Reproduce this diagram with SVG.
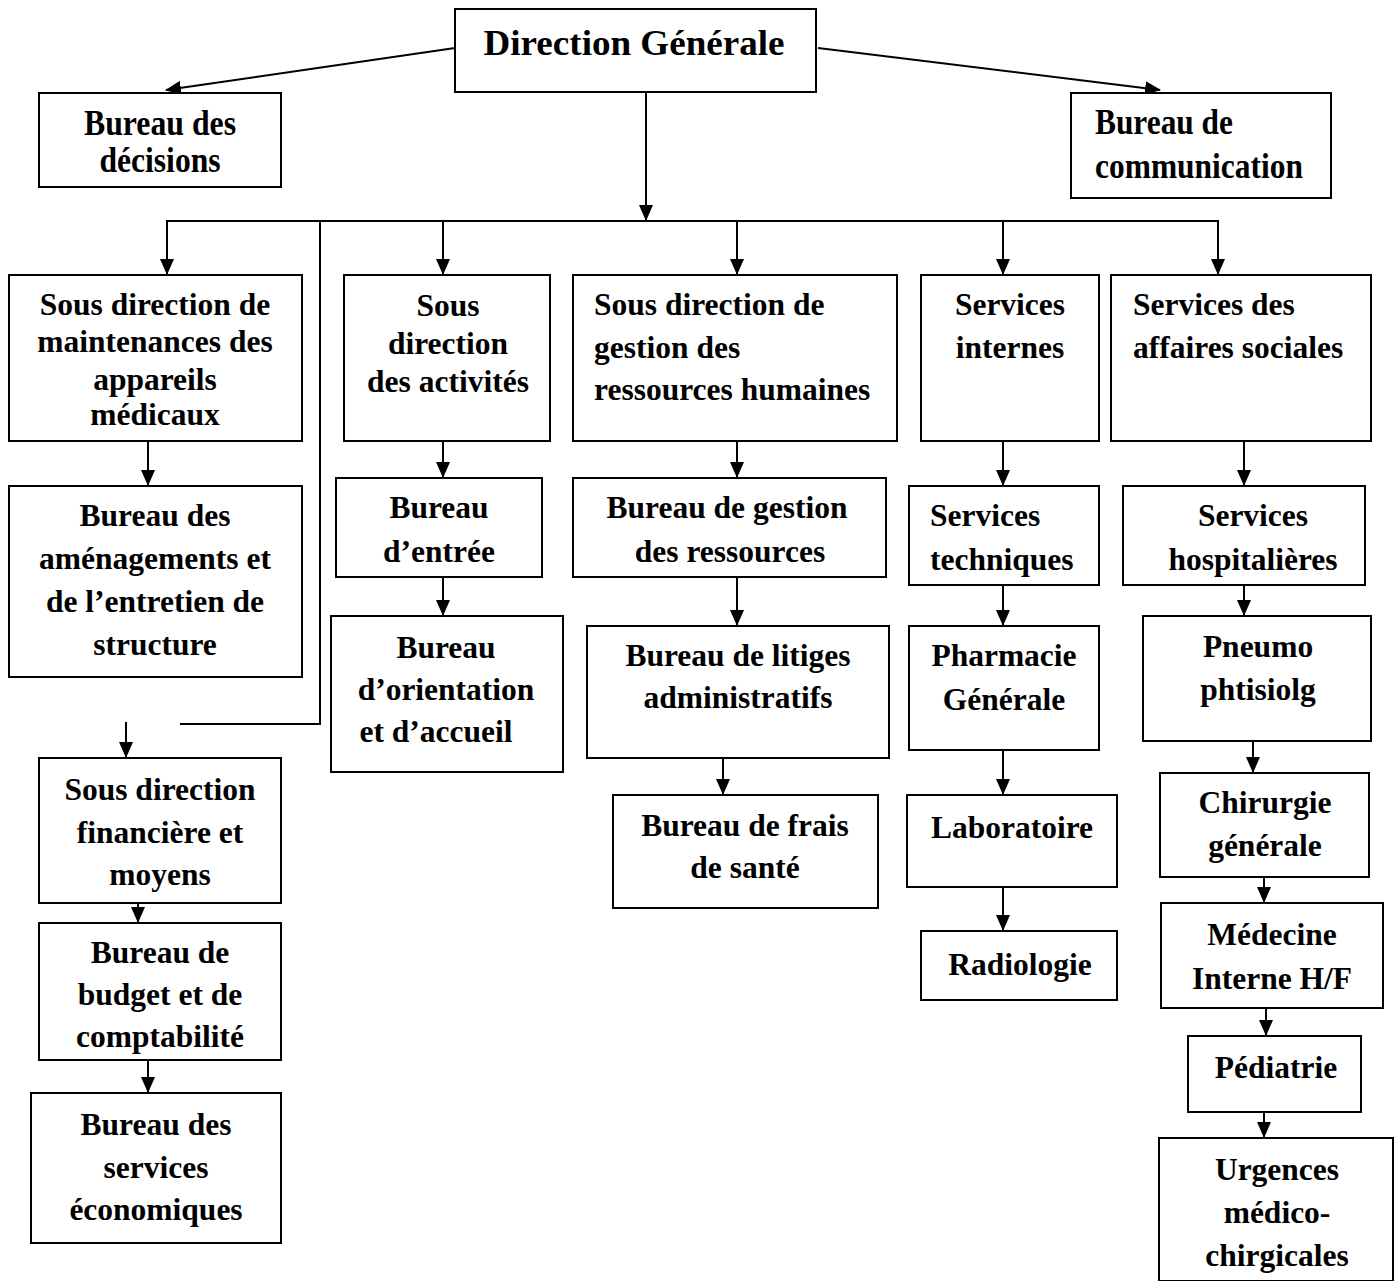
<svg xmlns="http://www.w3.org/2000/svg" width="1395" height="1281" viewBox="0 0 1395 1281">
<defs>
<style>
.b{fill:#fff;stroke:#000;stroke-width:2}
text{font-family:"Liberation Serif","Times New Roman",serif;font-weight:bold;font-size:31.5px;fill:#000}
.c{text-anchor:middle}
.k{font-family:"Liberation Serif",serif;font-size:36px}
.l{fill:none;stroke:#000;stroke-width:2}
</style>
<marker id="a" markerUnits="userSpaceOnUse" markerWidth="16" markerHeight="14" refX="15" refY="7" orient="auto">
<path d="M0,0 L16,7 L0,14 z" fill="#000"/>
</marker>
</defs>
<rect width="1395" height="1281" fill="#fff"/>
<g id="connectors">
<line class="l" x1="455" y1="48" x2="166" y2="90" marker-end="url(#a)"/>
<line class="l" x1="818" y1="48" x2="1160" y2="90" marker-end="url(#a)"/>
<line class="l" x1="646" y1="92" x2="646" y2="220" marker-end="url(#a)"/>
<polyline class="l" points="167,274 167,221 1218,221 1218,274"/>
<line class="l" x1="167" y1="230" x2="167" y2="274" marker-end="url(#a)"/>
<line class="l" x1="443" y1="221" x2="443" y2="274" marker-end="url(#a)"/>
<line class="l" x1="737" y1="221" x2="737" y2="274" marker-end="url(#a)"/>
<line class="l" x1="1003" y1="221" x2="1003" y2="274" marker-end="url(#a)"/>
<line class="l" x1="1218" y1="230" x2="1218" y2="274" marker-end="url(#a)"/>
<polyline class="l" points="320,221 320,724 180,724"/>
<line class="l" x1="126" y1="722" x2="126" y2="757" marker-end="url(#a)"/>
<line class="l" x1="148" y1="441" x2="148" y2="485" marker-end="url(#a)"/>
<line class="l" x1="443" y1="441" x2="443" y2="477" marker-end="url(#a)"/>
<line class="l" x1="443" y1="577" x2="443" y2="615" marker-end="url(#a)"/>
<line class="l" x1="737" y1="441" x2="737" y2="477" marker-end="url(#a)"/>
<line class="l" x1="737" y1="577" x2="737" y2="625" marker-end="url(#a)"/>
<line class="l" x1="723" y1="758" x2="723" y2="794" marker-end="url(#a)"/>
<line class="l" x1="1003" y1="441" x2="1003" y2="485" marker-end="url(#a)"/>
<line class="l" x1="1003" y1="585" x2="1003" y2="625" marker-end="url(#a)"/>
<line class="l" x1="1003" y1="750" x2="1003" y2="794" marker-end="url(#a)"/>
<line class="l" x1="1003" y1="887" x2="1003" y2="930" marker-end="url(#a)"/>
<line class="l" x1="1244" y1="441" x2="1244" y2="485" marker-end="url(#a)"/>
<line class="l" x1="1244" y1="585" x2="1244" y2="615" marker-end="url(#a)"/>
<line class="l" x1="1253" y1="741" x2="1253" y2="772" marker-end="url(#a)"/>
<line class="l" x1="1264" y1="877" x2="1264" y2="902" marker-end="url(#a)"/>
<line class="l" x1="1266" y1="1008" x2="1266" y2="1035" marker-end="url(#a)"/>
<line class="l" x1="1264" y1="1112" x2="1264" y2="1137" marker-end="url(#a)"/>
<line class="l" x1="138" y1="903" x2="138" y2="922" marker-end="url(#a)"/>
<line class="l" x1="148" y1="1060" x2="148" y2="1092" marker-end="url(#a)"/>
</g>
<g id="n-dg"><rect class="b" x="455" y="9" width="361" height="83"/><text class="c" x="634" y="55" style="font-size:36px" textLength="301" lengthAdjust="spacingAndGlyphs">Direction Générale</text></g>
<g id="n-decisions"><rect class="b" x="39" y="93" width="242" height="94"/><text class="c k" x="160" y="135" textLength="152" lengthAdjust="spacingAndGlyphs">Bureau des</text><text class="c k" x="160" y="172" textLength="121" lengthAdjust="spacingAndGlyphs">décisions</text></g>
<g id="n-communication"><rect class="b" x="1071" y="93" width="260" height="105"/><text class="k" x="1095" y="134" textLength="138" lengthAdjust="spacingAndGlyphs">Bureau de</text><text class="k" x="1095" y="178" textLength="208" lengthAdjust="spacingAndGlyphs">communication</text></g>
<g id="n-maint"><rect class="b" x="9" y="275" width="293" height="166"/><text class="c" x="155" y="315">Sous direction de</text><text class="c" x="155" y="352">maintenances des</text><text class="c" x="155" y="390">appareils</text><text class="c" x="155" y="425">médicaux</text></g>
<g id="n-activites"><rect class="b" x="344" y="275" width="206" height="166"/><text class="c" x="448" y="316">Sous</text><text class="c" x="448" y="354">direction</text><text class="c" x="448" y="392">des activités</text></g>
<g id="n-rh"><rect class="b" x="573" y="275" width="324" height="166"/><text x="594" y="315">Sous direction de</text><text x="594" y="358">gestion des</text><text x="594" y="400">ressources humaines</text></g>
<g id="n-internes"><rect class="b" x="921" y="275" width="178" height="166"/><text class="c" x="1010" y="315">Services</text><text class="c" x="1010" y="358">internes</text></g>
<g id="n-sociales"><rect class="b" x="1111" y="275" width="260" height="166"/><text x="1133" y="315">Services des</text><text x="1133" y="358">affaires sociales</text></g>
<g id="n-amenag"><rect class="b" x="9" y="486" width="293" height="191"/><text class="c" x="155" y="526">Bureau des</text><text class="c" x="155" y="569">aménagements et</text><text class="c" x="155" y="612">de l’entretien de</text><text class="c" x="155" y="655">structure</text></g>
<g id="n-entree"><rect class="b" x="336" y="478" width="206" height="99"/><text class="c" x="439" y="518">Bureau</text><text class="c" x="439" y="562">d’entrée</text></g>
<g id="n-orient"><rect class="b" x="331" y="616" width="232" height="156"/><text class="c" x="446" y="658">Bureau</text><text class="c" x="446" y="700">d’orientation</text><text class="c" x="436" y="742">et d’accueil</text></g>
<g id="n-gestion"><rect class="b" x="573" y="478" width="313" height="99"/><text class="c" x="727" y="518">Bureau de gestion</text><text class="c" x="730" y="562">des ressources</text></g>
<g id="n-litiges"><rect class="b" x="587" y="626" width="302" height="132"/><text class="c" x="738" y="666">Bureau de litiges</text><text class="c" x="738" y="708">administratifs</text></g>
<g id="n-frais"><rect class="b" x="613" y="795" width="265" height="113"/><text class="c" x="745" y="836">Bureau de frais</text><text class="c" x="745" y="878">de santé</text></g>
<g id="n-techniques"><rect class="b" x="909" y="486" width="190" height="99"/><text x="930" y="526">Services</text><text x="930" y="570">techniques</text></g>
<g id="n-pharmacie"><rect class="b" x="909" y="626" width="190" height="124"/><text class="c" x="1004" y="666">Pharmacie</text><text class="c" x="1004" y="710">Générale</text></g>
<g id="n-labo"><rect class="b" x="907" y="795" width="210" height="92"/><text class="c" x="1012" y="838">Laboratoire</text></g>
<g id="n-radio"><rect class="b" x="921" y="931" width="196" height="69"/><text class="c" x="1020" y="975">Radiologie</text></g>
<g id="n-hosp"><rect class="b" x="1123" y="486" width="242" height="99"/><text class="c" x="1253" y="526">Services</text><text class="c" x="1253" y="570">hospitalières</text></g>
<g id="n-pneumo"><rect class="b" x="1143" y="616" width="228" height="125"/><text class="c" x="1258" y="657">Pneumo</text><text class="c" x="1258" y="700">phtisiolg</text></g>
<g id="n-chir"><rect class="b" x="1160" y="773" width="209" height="104"/><text class="c" x="1265" y="813">Chirurgie</text><text class="c" x="1265" y="856">générale</text></g>
<g id="n-medecine"><rect class="b" x="1161" y="903" width="222" height="105"/><text class="c" x="1272" y="945">Médecine</text><text class="c" x="1272" y="989">Interne H/F</text></g>
<g id="n-pediatrie"><rect class="b" x="1188" y="1036" width="173" height="76"/><text class="c" x="1276" y="1078">Pédiatrie</text></g>
<g id="n-urgences"><rect class="b" x="1159" y="1138" width="234" height="143"/><text class="c" x="1277" y="1180">Urgences</text><text class="c" x="1277" y="1223">médico-</text><text class="c" x="1277" y="1266">chirgicales</text></g>
<g id="n-fin"><rect class="b" x="39" y="758" width="242" height="145"/><text class="c" x="160" y="800">Sous direction</text><text class="c" x="160" y="843">financière et</text><text class="c" x="160" y="885">moyens</text></g>
<g id="n-budget"><rect class="b" x="39" y="923" width="242" height="137"/><text class="c" x="160" y="963">Bureau de</text><text class="c" x="160" y="1005">budget et de</text><text class="c" x="160" y="1047">comptabilité</text></g>
<g id="n-eco"><rect class="b" x="31" y="1093" width="250" height="150"/><text class="c" x="156" y="1135">Bureau des</text><text class="c" x="156" y="1178">services</text><text class="c" x="156" y="1220">économiques</text></g>
</svg>
